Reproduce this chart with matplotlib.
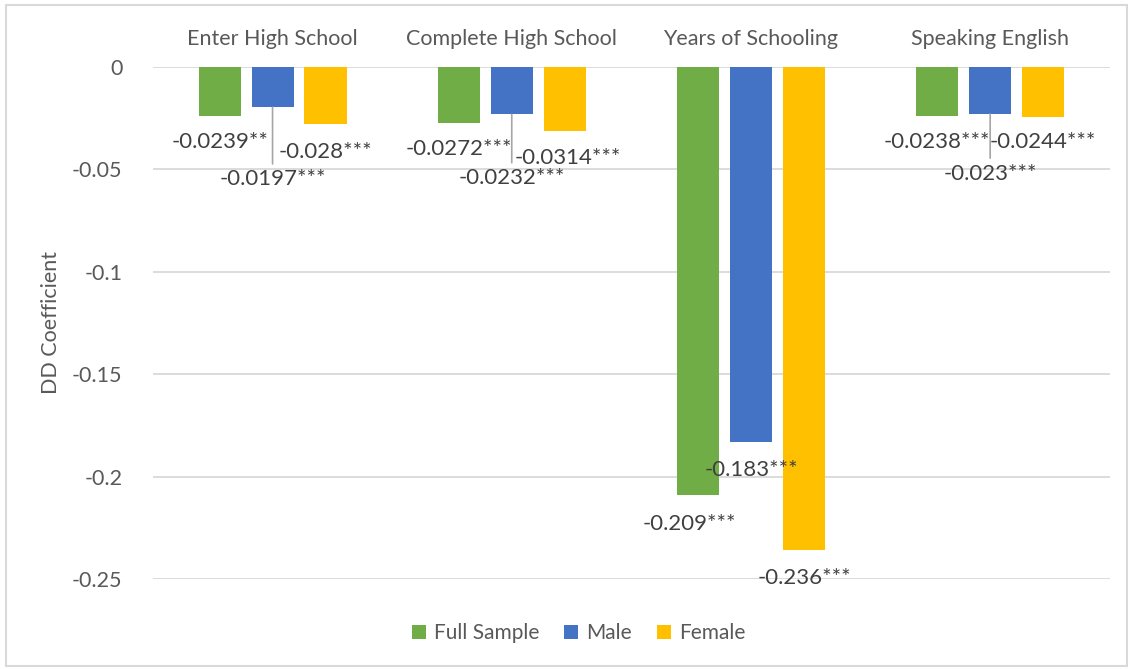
import numpy as np
import matplotlib.pyplot as plt

# DD estimates by outcome and sample
outcomes = ["Enter High School", "Complete High School", "Years of Schooling", "Speaking English"]
series = ["Full Sample", "Male", "Female"]
full_sample = [-0.0239, -0.0272, -0.209, -0.0238]
male = [-0.0197, -0.0232, -0.183, -0.023]
female = [-0.028, -0.0314, -0.236, -0.0244]
full_stars = ["**", "***", "***", "***"]
male_stars = ["***", "***", "***", "***"]
female_stars = ["***", "***", "***", "***"]

colors = ["#70AD47", "#4472C4", "#FFC000"]
text_color = "#595959"
label_color = "#404040"

# label offsets (points) from each bar's end; leader flag for moved labels
label_offsets = [
    [(0, -19), (0, -19), (-6, -21), (0, -19)],
    [(0, -52), (0, -46), (0, -20), (0, -43)],
    [(0, -20), (2, -19), (0, -20), (0, -18)],
]
leaders = [
    [False, False, False, False],
    [True, True, False, True],
    [False, False, False, False],
]

plt.rcParams['font.family'] = ['Lato', 'DejaVu Sans']

fig = plt.figure(figsize=(11.33, 6.69), dpi=100)
ax = fig.add_axes([0.135, 0.1345, 0.8445, 0.7655])

x = np.arange(len(outcomes))
step = 0.2215
width = 0.176
values = [full_sample, male, female]
stars = [full_stars, male_stars, female_stars]

for i, (name, vals, st) in enumerate(zip(series, values, stars)):
    pos = x + (i - 1) * step
    ax.bar(pos, vals, width, color=colors[i], label=name, zorder=2)
    for j, (px, v, s) in enumerate(zip(pos, vals, st)):
        dx, dy = label_offsets[i][j]
        arrow = dict(arrowstyle='-', color='#A6A6A6', lw=1.2,
                     shrinkA=2, shrinkB=0) if leaders[i][j] else None
        ax.annotate(f"{v:g}{s}", xy=(px, v), xytext=(dx, dy),
                    textcoords='offset points', ha='center', va='center',
                    fontsize=16, color=label_color, arrowprops=arrow,
                    zorder=3)

ax.set_xlim(-0.5, len(outcomes) - 0.5)
ax.set_ylim(-0.25, 0)
ax.set_yticks([0, -0.05, -0.1, -0.15, -0.2, -0.25])
ax.set_yticklabels(["0", "-0.05", "-0.1", "-0.15", "-0.2", "-0.25"])
ax.yaxis.grid(True, color='#D9D9D9', lw=1.3, zorder=0)
ax.set_axisbelow(True)
ax.tick_params(axis='y', length=0, pad=22, labelsize=15.5, labelcolor=text_color)

# category names sit above the zero line
ax.xaxis.tick_top()
ax.set_xticks(x)
ax.set_xticklabels(outcomes)
ax.tick_params(axis='x', length=0, pad=13, labelsize=15.5, labelcolor=text_color)

for sp in ax.spines.values():
    sp.set_visible(False)

ax.set_ylabel("DD Coefficient", fontsize=15.5, color=text_color, labelpad=8)

ax.legend(loc='upper center', bbox_to_anchor=(0.445, -0.05), ncol=3,
          frameon=False, fontsize=15, labelcolor=text_color,
          handlelength=0.65, handleheight=0.65, handletextpad=0.4,
          columnspacing=1.2)

# light chart border
fig.patches.append(plt.Rectangle((0.005, 0.004), 0.99, 0.989,
                                 transform=fig.transFigure, fill=False,
                                 edgecolor='#D9D9D9', lw=1.5))

fig.savefig("out.png", dpi=100)
